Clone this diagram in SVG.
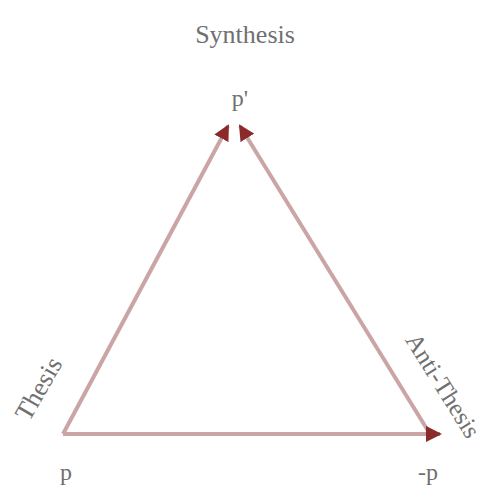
<svg xmlns="http://www.w3.org/2000/svg" width="490" height="487" viewBox="0 0 490 487">
<style>
.lbl{font-family:"Liberation Serif",serif;fill:#707070;}
.edge{stroke:#cba5a5;stroke-width:4;fill:none;}
</style>
<defs>
<marker id="ah" markerWidth="4" markerHeight="4" refX="3.5" refY="2" orient="auto" markerUnits="strokeWidth">
<path d="M0,0 L4,2 L0,4 z" fill="#8a2a2a"/>
</marker>
</defs>
<rect width="490" height="487" fill="#ffffff"/>
<g id="connectors">
<line class="edge" x1="63" y1="434" x2="228" y2="126" marker-end="url(#ah)"/>
<line class="edge" x1="430" y1="434" x2="240" y2="126" marker-end="url(#ah)"/>
<line class="edge" x1="63" y1="434" x2="440" y2="434" marker-end="url(#ah)"/>
</g>
<g id="synthesis">
<text class="lbl" x="245" y="43" font-size="26" text-anchor="middle">Synthesis</text>
<text class="lbl" x="240" y="106" font-size="24" text-anchor="middle">p'</text>
</g>
<g id="thesis">
<text class="lbl" x="0" y="0" font-size="26" text-anchor="middle" transform="translate(46,393) rotate(-60)">Thesis</text>
<text class="lbl" x="66" y="480" font-size="24" text-anchor="middle">p</text>
</g>
<g id="antithesis">
<text class="lbl" x="0" y="0" font-size="25" text-anchor="middle" transform="translate(436,390) rotate(58)">Anti-Thesis</text>
<text class="lbl" x="428" y="480" font-size="24" text-anchor="middle">-p</text>
</g>
</svg>
